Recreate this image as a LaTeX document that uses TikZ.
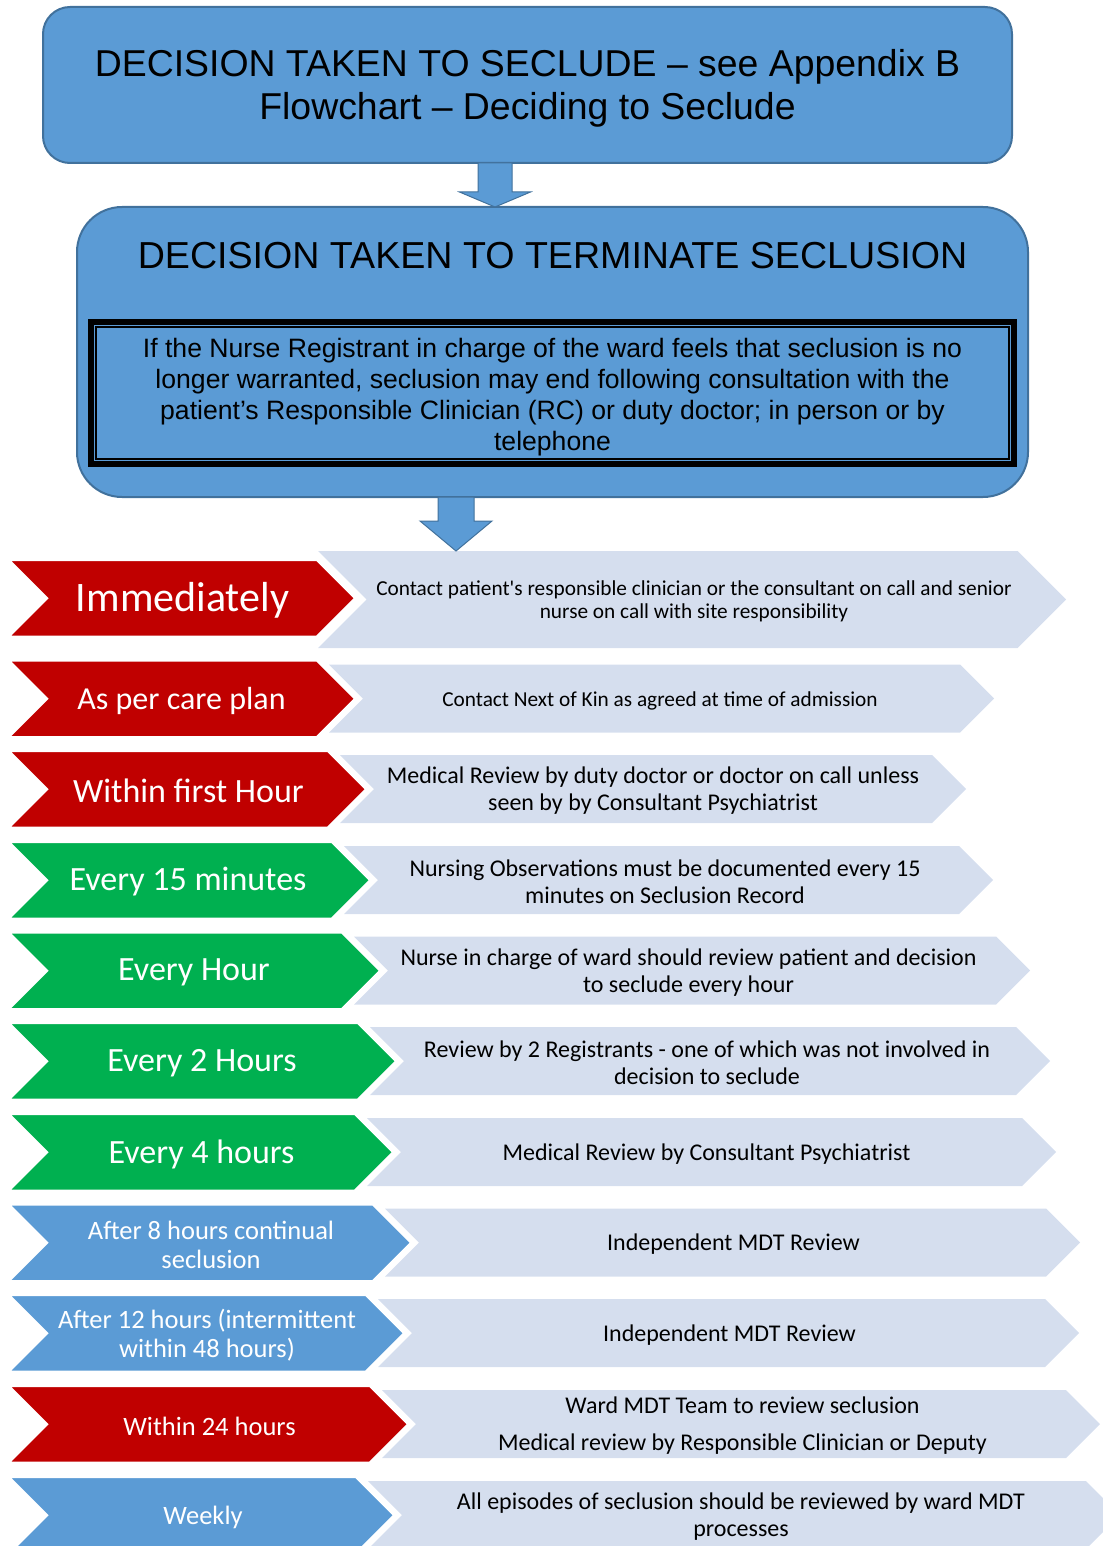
\documentclass[tikz,border=0pt]{standalone}
\usepackage{fontspec}
\setmainfont{Liberation Sans}
\newfontfamily\calibri{Carlito}
\usetikzlibrary{calc}

\definecolor{boxblue}{HTML}{5B9BD5}
\definecolor{boxedge}{HTML}{41719C}
\definecolor{tabred}{HTML}{C00000}
\definecolor{tabgreen}{HTML}{00B050}
\definecolor{tabpale}{RGB}{213,222,238}

\begin{document}
\begin{tikzpicture}[x=1pt,y=-1pt,
    every node/.style={outer sep=0pt,inner sep=0pt},
    bigbox/.style={draw=boxedge,fill=boxblue,line width=2pt},
    blockarrow/.style={draw=boxedge,fill=boxblue,line width=1pt},
    tab/.style={draw=white,line width=2pt},
    pale/.style={fill=tabpale},
    tablabel/.style={text=white,align=center,font=\calibri\fontsize{34}{40}\selectfont},
    smalllabel/.style={text=white,align=center,font=\calibri\fontsize{26.5}{29}\selectfont},
    tasklabel/.style={text=black,align=center,font=\calibri\fontsize{24}{27}\selectfont},
    smalltask/.style={text=black,align=center,font=\calibri\fontsize{21.3}{23}\selectfont}]

    \useasboundingbox (0,0) rectangle (1102,1546);

    %%Decision_boxes
    \node[bigbox,rounded corners=27pt,minimum width=969pt,minimum height=156pt] (seclude) at (527.5,85) {};
    \node[align=center,font=\fontsize{37.4}{43}\selectfont] (secludetext) at (527.5,88)
        {DECISION TAKEN TO SECLUDE – see Appendix B\\Flowchart – Deciding to Seclude};
    \node[bigbox,rounded corners=45pt,minimum width=951pt,minimum height=290pt] (terminate) at (552.5,352) {};
    \node[font=\fontsize{37.6}{43}\selectfont] (termtitle) at (552.5,256) {DECISION TAKEN TO TERMINATE SECLUSION};
    \node[draw=black,line width=5.7pt,minimum width=923.3pt,minimum height=142.3pt] (rcnote) at (552.5,393) {};
    \node[align=center,font=\fontsize{26.6}{31}\selectfont] (rctext) at (552.5,397)
        {If the Nurse Registrant in charge of the ward feels that seclusion is no\\
         longer warranted, seclusion may end following consultation with the\\
         patient’s Responsible Clinician (RC) or duty doctor; in person or by\\
         telephone};
    \draw[line width=1.6pt] ($(rcnote.north west)+(5.35,5.35)$) rectangle ($(rcnote.south east)+(-5.35,-5.35)$);

    %%Block_arrows
    \coordinate (a1) at ($(seclude.south)+(-32.5,0)$);
    \draw[blockarrow] ([xshift=-17pt]a1) -- ++(0,29) -- ++(-18.5,0) -- (a1 |- terminate.north)
        -- ++(35.5,-15) -- ++(-18.5,0) -- ([xshift=17pt]a1) -- cycle;
    \coordinate (firstrow) at (692,551);
    \coordinate (a2) at ($(terminate.south)+(-96.5,0)$);

    %%Pale_tabs
    \fill[pale] (318,551) -- (1017.5,551) -- (1066,599.5) -- (1017.5,648) -- (318,648) -- (366.5,599.5) -- cycle;
    \foreach \ty/\tx/\rx in {660.5/355/994, 751/366/966, 842/370/993, 932.5/380/1030, 1023/396/1050,
        1114/393/1056, 1204.5/411/1080, 1295/404/1079, 1386/408/1100, 1477/394/1120}
        \fill[pale] (\tx-26,\ty+4) -- (\rx-34,\ty+4) -- (\rx,\ty+38) -- (\rx-34,\ty+72)
            -- (\tx-26,\ty+72) -- (\tx+8,\ty+38) -- cycle;

    %%Coloured_tabs
    \foreach \ty/\tx/\tabcol in {560/355/tabred, 660.5/355/tabred, 751/366/tabred, 842/370/tabgreen,
        932.5/380/tabgreen, 1023/396/tabgreen, 1114/393/tabgreen, 1204.5/411/boxblue,
        1295/404/boxblue, 1386/408/tabred, 1477/394/boxblue}
        \filldraw[tab,fill=\tabcol] (9,\ty) -- (\tx-38.25,\ty) -- (\tx,\ty+38.25) -- (\tx-38.25,\ty+76.5)
            -- (9,\ty+76.5) -- (47.25,\ty+38.25) -- cycle;

    \draw[blockarrow] ([xshift=-18pt]a2) -- ++(0,24) -- ++(-18,0) -- (a2 |- firstrow)
        -- ++(36,-30) -- ++(-18,0) -- ([xshift=18pt]a2) -- cycle;

    %%Tab_labels
    \node[tablabel,font=\calibri\fontsize{42}{48}\selectfont] (immed) at (182.5,600) {Immediately};
    \node[tablabel,font=\calibri\fontsize{32}{38}\selectfont] (careplan) at (181.5,700.5) {As per care plan};
    \node[tablabel] (firsthour) at (188.5,791) {Within first Hour};
    \node[tablabel] (quarter) at (188,882) {Every 15 minutes};
    \node[tablabel] (hourly) at (194,972.5) {Every Hour};
    \node[tablabel] (twohour) at (202,1063) {Every 2 Hours};
    \node[tablabel] (fourhour) at (201.5,1154) {Every 4 hours};
    \node[smalllabel] (eighthour) at (211,1244.5) {After 8 hours continual\\seclusion};
    \node[smalllabel] (twelvehour) at (207,1335) {After 12 hours (intermittent\\within 48 hours)};
    \node[smalllabel] (dayone) at (209.5,1426) {Within 24 hours};
    \node[smalllabel] (weekly) at (203,1517) {Weekly};

    %%Task_texts
    \node[smalltask] (contactrc) at (694,601.5)
        {Contact patient's responsible clinician or the consultant on call and senior\\nurse on call with site responsibility};
    \node[smalltask] (contactkin) at (660,700.5) {Contact Next of Kin as agreed at time of admission};
    \node[tasklabel] (medreview) at (653,791)
        {Medical Review by duty doctor or doctor on call unless\\seen by by Consultant Psychiatrist};
    \node[tasklabel] (nursingobs) at (665,882)
        {Nursing Observations must be documented every 15\\minutes on Seclusion Record};
    \node[tasklabel] (nicreview) at (688.5,972.5)
        {Nurse in charge of ward should review patient and decision\\to seclude every hour};
    \node[tasklabel] (regreview) at (707,1063)
        {Review by 2 Registrants - one of which was not involved in\\decision to seclude};
    \node[tasklabel] (consreview) at (706.5,1154) {Medical Review by Consultant Psychiatrist};
    \node[tasklabel] (mdtone) at (733.5,1244.5) {Independent MDT Review};
    \node[tasklabel] (mdttwo) at (729.5,1335) {Independent MDT Review};
    \node[tasklabel] (wardmdt) at (742.5,1426)
        {Ward MDT Team to review seclusion\\[10pt]Medical review by Responsible Clinician or Deputy};
    \node[tasklabel] (weeklymdt) at (741,1517)
        {All episodes of seclusion should be reviewed by ward MDT\\processes};
\end{tikzpicture}
\end{document}
